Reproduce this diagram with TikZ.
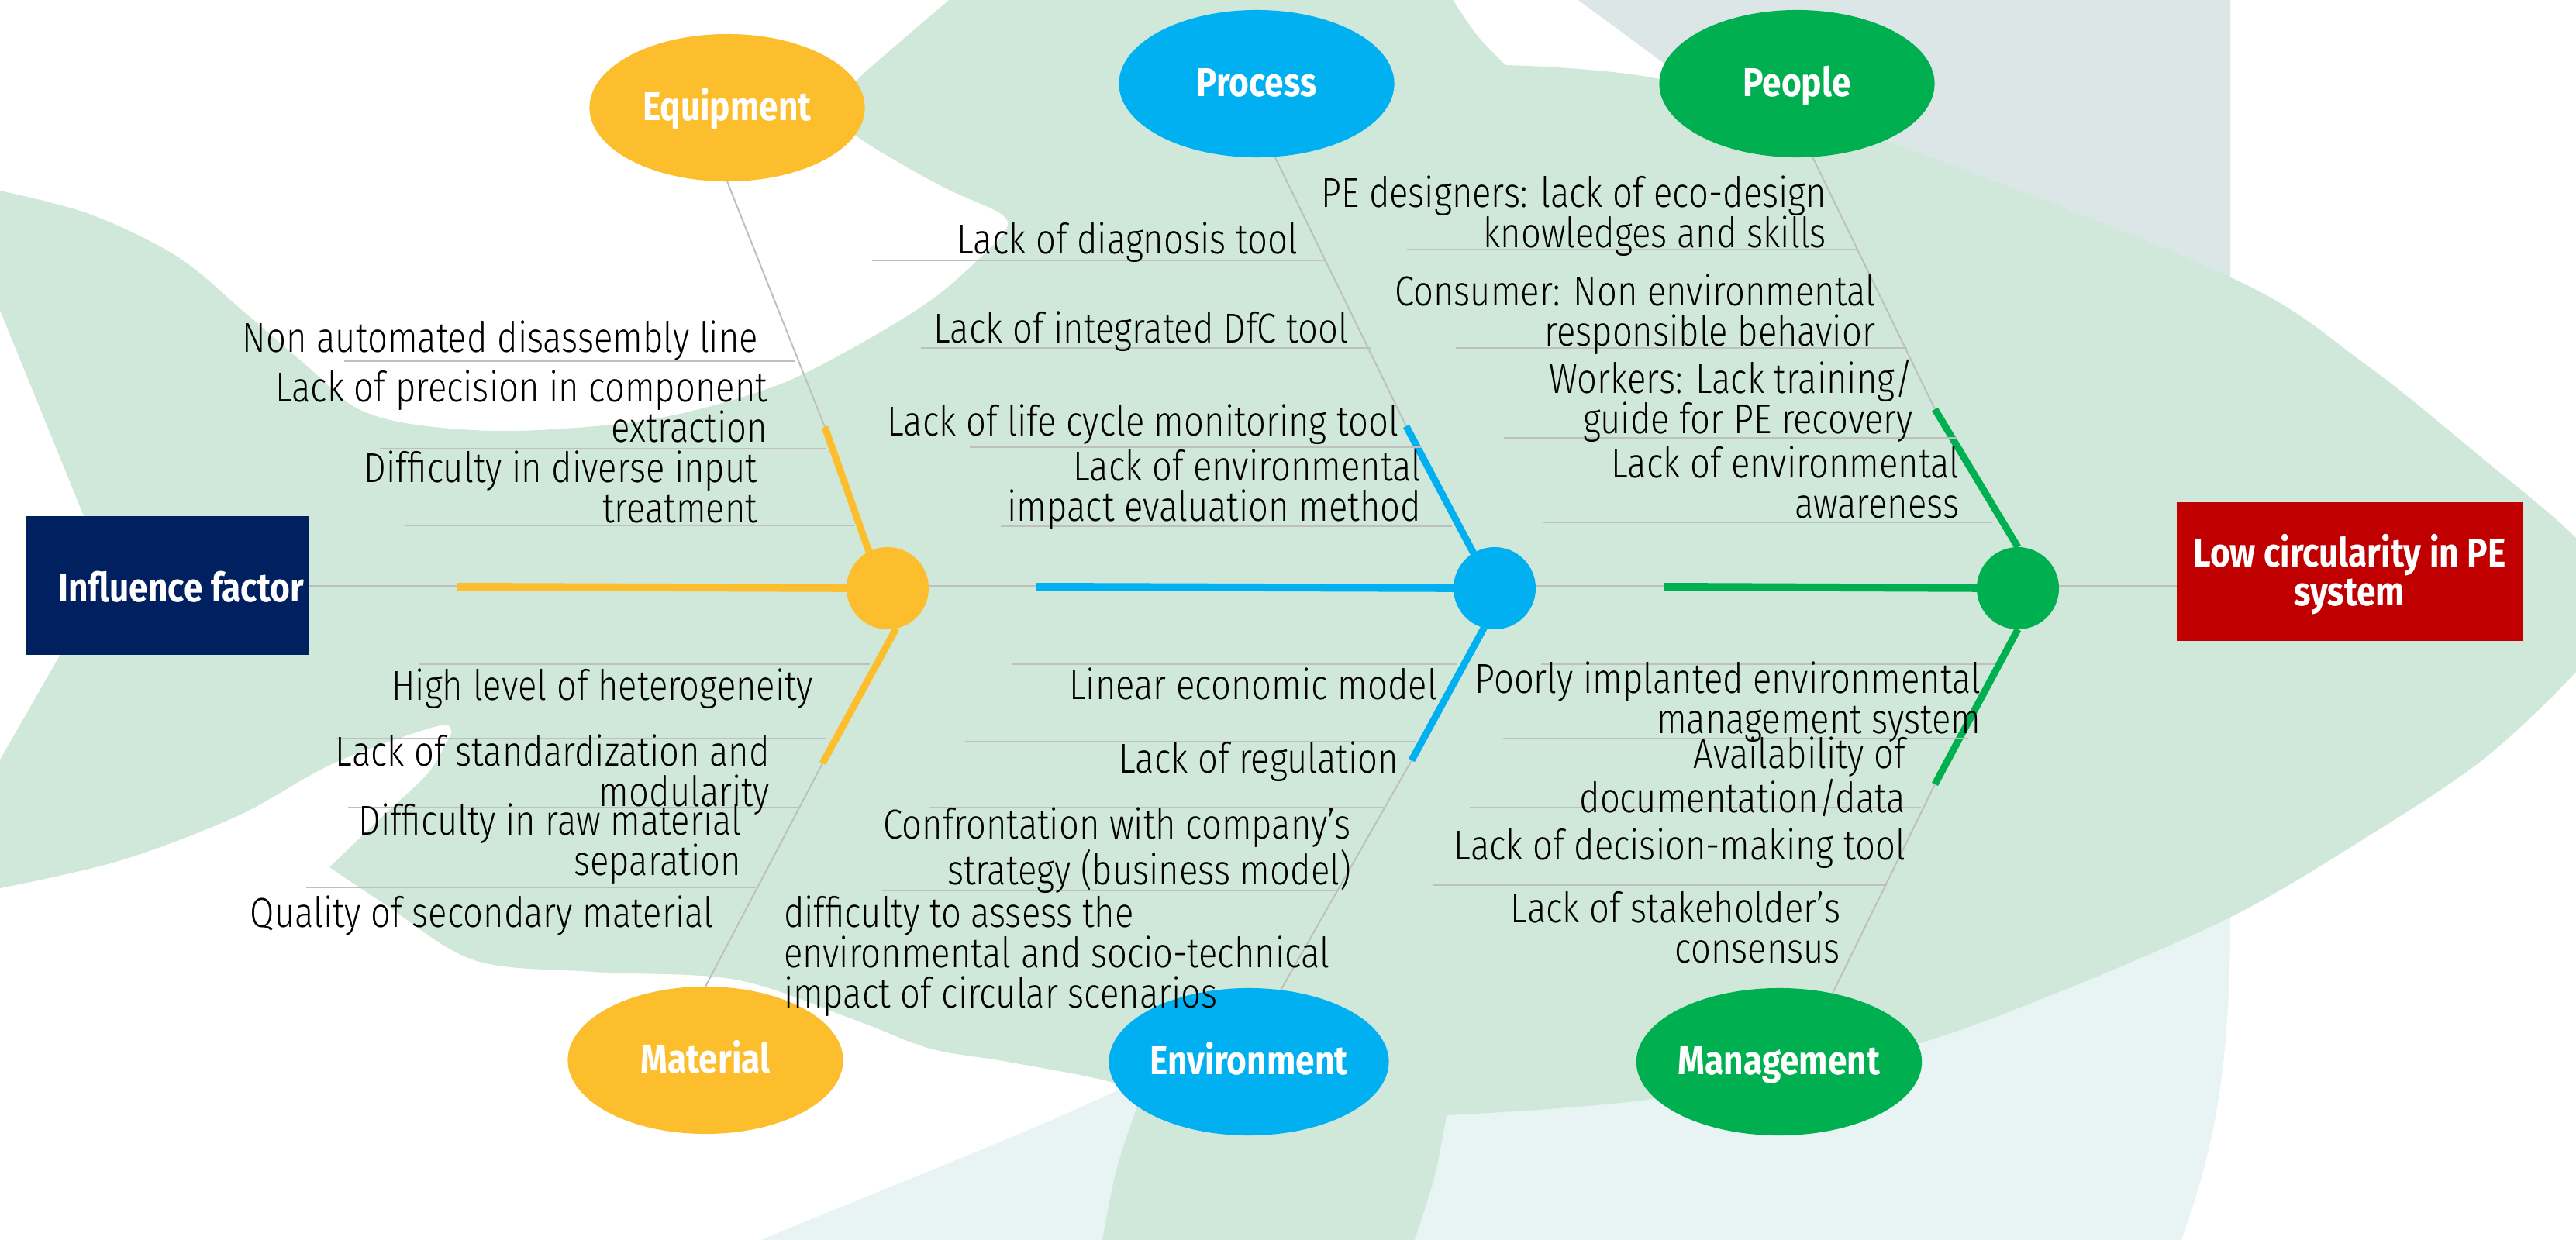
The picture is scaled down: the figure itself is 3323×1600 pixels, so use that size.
\documentclass[tikz,border=0pt]{standalone}
\usepackage{fontspec}
\setmainfont{Fira Sans}[FakeStretch=0.85]
\newfontfamily\lightfont{Fira Sans Light}[FakeStretch=0.84,Ligatures=TeX]
\usetikzlibrary{shapes.geometric}
\definecolor{bggreen}{RGB}{207,232,217}
\definecolor{bggray}{RGB}{220,230,231}
\definecolor{bglight}{RGB}{232,244,243}
\definecolor{cyellow}{RGB}{253,190,45}
\definecolor{cblue}{RGB}{0,176,240}
\definecolor{cgreen}{RGB}{0,176,80}
\definecolor{cnavy}{RGB}{0,32,96}
\definecolor{cred}{RGB}{192,0,0}
\definecolor{twiggray}{RGB}{191,191,191}
\newcommand\causefont{\lightfont\fontsize{0.54cm}{0.52cm}\selectfont}
\newcommand\labelfont{\fontsize{0.52cm}{0.5cm}\selectfont\bfseries}
\newcommand\tstrut{\rule{0pt}{0.5cm}}
\pgfdeclarelayer{back}
\pgfdeclarelayer{lines}
\pgfsetlayers{back,lines,main}
\begin{document}
\begin{tikzpicture}[x=0.01cm,y=-0.01cm,
  every node/.style={inner sep=0pt,outer sep=0pt},
  cause/.style={anchor=north east,align=right,font=\causefont,text=black},
  causeleft/.style={anchor=north west,align=left,font=\causefont,text=black},
  catnode/.style={ellipse,minimum width=3.55cm,minimum height=1.9cm,font=\labelfont,text=white,text height=0.36cm,text depth=0.04cm},
  joint/.style={circle,minimum size=1.06cm},
  twig/.style={draw=twiggray,line width=0.02cm},
  bone/.style={line width=0.09cm},
  bar/.style={line width=0.1cm}]
\useasboundingbox (0,0) rectangle (3323,1600);
\clip (0,0) rectangle (3323,1600);

% ---------- background ----------
\begin{pgfonlayer}{back}
\fill[white] (0,0) rectangle (3323,1600);
\fill[bggray] (2029,-5) -- (2877,-5) -- (2877,600) -- (2300,600) -- (2185,110) -- cycle;
\fill[bglight] (969,1605) .. controls (1150,1530) and (1330,1460) .. (1439,1408) -- (1700,1300) -- (2877,1000) -- (2877,1183) .. controls (2877,1400) and (2850,1500) .. (2812,1605) -- cycle;
\fill[bggreen] plot[smooth,tension=0.55] coordinates {(-5,245) (115,276) (230,332) (321,408) (398,474) (459,526) (536,548) (666,556) (842,541) (995,500) (1100,449) (1200,388) (1265,332) (1298,296) (1290,275) (1224,245) (1160,210) (1102,173) (1078,140) (1107,102) (1160,55) (1230,-5)}
 -- (1871,-5)
 -- plot[smooth,tension=0.55] coordinates {(1871,-5) (1905,45) (1942,84)}
 -- plot[smooth,tension=0.55] coordinates {(1942,84) (2141,102) (2437,184) (2876,357) (3050,469) (3203,592) (3323,694) (3390,780) (3323,867) (3203,980) (3050,1082) (2876,1184) (2641,1286) (2437,1357) (2131,1418) (1866,1439)}
 -- plot[smooth,tension=0.55] coordinates {(1866,1439) (1850,1520) (1823,1605)}
 -- (1421,1605)
 -- plot[smooth,tension=0.55] coordinates {(1421,1605) (1440,1510) (1467,1428)}
 -- plot[smooth,tension=0.55] coordinates {(1467,1428) (1439,1398) (1300,1370) (1200,1353) (1100,1315) (949,1264) (765,1254) (612,1239) (497,1167) (425,1119)}
 -- plot[smooth,tension=0.55] coordinates {(425,1119) (497,1050) (551,999) (575,960) (582,942) (560,938) (430,985) (306,1053) (153,1111) (-5,1147)}
 -- (-5,989) -- (77,846) -- (136,737) -- (107,663) -- (-5,388) -- cycle;
\end{pgfonlayer}

% ---------- main nodes ----------
\node[fill=cnavy,minimum width=3.65cm,minimum height=1.79cm] (infl) at (215.5,755.5) {};
\node[anchor=base east,font=\labelfont,text=white] (infltxt) at (392,776) {Influence factor};
\node[fill=cred,minimum width=4.46cm,minimum height=1.79cm] (lowc) at (3031,737.5) {};
\node[anchor=north,align=center,font=\labelfont,text=white] (lowctxt) at (3031,681) {\tstrut Low circularity in PE\\system};

\node[catnode,fill=cyellow] (equip) at (938,139) {Equipment};
\node[catnode,fill=cblue] (proc) at (1621,108) {Process};
\node[catnode,fill=cgreen] (peop) at (2318,108) {People};
\node[catnode,fill=cyellow] (mat) at (910,1368) {Material};
\node[catnode,fill=cblue] (env) at (1611,1370) {Environment};
\node[catnode,fill=cgreen] (mgmt) at (2295,1370) {Management};

\node[joint,fill=cyellow] (jy) at (1145,759) {};
\node[joint,fill=cblue] (jb) at (1928,759) {};
\node[joint,fill=cgreen] (jg) at (2603,759) {};

% bend points of the ribs and starts of the thick bars
\coordinate (eqb) at (1064,551);
\coordinate (prb) at (1814,550);
\coordinate (peb) at (2496,528);
\coordinate (mab) at (1061,985);
\coordinate (enb) at (1821,981);
\coordinate (mgb) at (2496,1012);
\coordinate (ybar) at (590,757);
\coordinate (bbar) at (1337,757);
\coordinate (gbar) at (2146,757);

% ---------- lines ----------
\begin{pgfonlayer}{lines}
\draw[twig] (infl.east) -- (infl.east -| lowc.west);
\draw[bar,cyellow] (ybar) -- (jy.center);
\draw[bar,cblue] (bbar) -- (jb.center);
\draw[bar,cgreen] (gbar) -- (jg.center);

\draw[twig] (equip.south) -- (eqb);
\draw[bone,cyellow] (eqb) -- (jy.117);
\draw[twig] (proc.-76) -- (prb);
\draw[bone,cblue] (prb) -- (jb.121);
\draw[twig] (peop.-78) -- (peb);
\draw[bone,cgreen] (peb) -- (jg.north);
\draw[bone,cyellow] (jy.-78) -- (mab);
\draw[twig] (mab) -- (mat.north);
\draw[bone,cblue] (jb.-105) -- (enb);
\draw[twig] (enb) -- (env.66);
\draw[bone,cgreen] (jg.south) -- (mgb);
\draw[twig] (mgb) -- (mgmt.52);

% equipment twigs
\draw[twig] (444,466) -- (1026,466);
\draw[twig] (490,579) -- (1066,579);
\draw[twig] (522,678) -- (1102,678);
% process twigs
\draw[twig] (1125,336) -- (1710,336);
\draw[twig] (1188,449) -- (1769,449);
\draw[twig] (1251,577) -- (1835,577);
\draw[twig] (1291,679) -- (1873,679);
% people twigs
\draw[twig] (1815,322) -- (2396,322);
\draw[twig] (1878,449) -- (2460,449);
\draw[twig] (1940,565) -- (2524,565);
\draw[twig] (1990,674) -- (2570,674);
% material twigs
\draw[twig] (541,857) -- (1122,857);
\draw[twig] (434,953) -- (1066,953);
\draw[twig] (449,1042) -- (1031,1042);
\draw[twig] (395,1145) -- (975,1145);
% environment twigs
\draw[twig] (1305,857) -- (1880,857);
\draw[twig] (1245,957) -- (1827,957);
\draw[twig] (1199,1042) -- (1785,1042);
\draw[twig] (1138,1149) -- (1727,1149);
% management twigs
\draw[twig] (1988,857) -- (2574,857);
\draw[twig] (1939,953) -- (2539,953);
\draw[twig] (1896,1042) -- (2478,1042);
\draw[twig] (1849,1142) -- (2434,1142);
\end{pgfonlayer}

% ---------- cause texts ----------
\node[cause] (e1) at (978,404) {\tstrut Non automated disassembly line};
\node[cause] (e2) at (990,468) {\tstrut Lack of precision in component\\extraction};
\node[cause] (e3) at (977,572) {\tstrut Difficulty in diverse input\\treatment};

\node[cause] (p1) at (1674,277) {\tstrut Lack of diagnosis tool};
\node[cause] (p2) at (1739,392) {\tstrut Lack of integrated DfC tool};
\node[cause] (p3) at (1804,512) {\tstrut Lack of life cycle monitoring tool};
\node[cause] (p4) at (1833,570) {\tstrut Lack of environmental\\impact evaluation method};

\node[cause] (q1) at (2356,217) {\tstrut PE designers: lack of eco-design\\knowledges and skills};
\node[cause] (q2) at (2419,344) {\tstrut Consumer: Non environmental\\responsible behavior};
\node[cause] (q3) at (2468,457) {\tstrut Workers: Lack training/\\guide for PE recovery};
\node[cause] (q4) at (2527,566) {\tstrut Lack of environmental\\awareness};

\node[cause] (m1) at (1049,853) {\tstrut High level of heterogeneity};
\node[cause] (m2) at (993,938) {\tstrut Lack of standardization and\\modularity};
\node[cause] (m3) at (956,1027) {\tstrut Difficulty in raw material\\separation};
\node[cause] (m4) at (920,1146) {\tstrut Quality of secondary material};

\node[cause] (v1) at (1854,852) {\tstrut Linear economic model};
\node[cause] (v2) at (1804,947) {\tstrut Lack of regulation};
\node[cause] (v3) at (1743,1032) {\tstrut Confrontation with company’s\\strategy (business model)};
\node[causeleft] (v4) at (1011,1146) {\tstrut difficulty to assess the\\environmental and socio-technical\\impact of circular scenarios};

\node[cause] (g1) at (2555,844) {\tstrut Poorly implanted environmental\\management system};
\node[cause] (g2) at (2458,941) {\tstrut Availability of\\documentation/data};
\node[cause] (g3) at (2458,1059) {\tstrut Lack of decision-making tool};
\node[cause] (g4) at (2374,1140) {\tstrut Lack of stakeholder’s\\consensus};
\end{tikzpicture}
\end{document}
